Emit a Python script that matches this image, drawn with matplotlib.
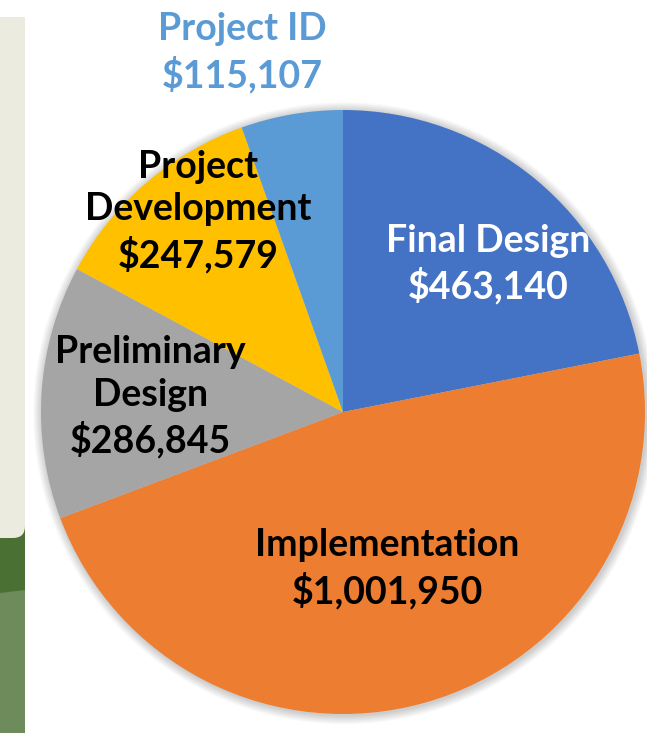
import numpy as np
import matplotlib
matplotlib.use('Agg')
import matplotlib.pyplot as plt
from matplotlib.patches import Circle, Rectangle, Polygon, FancyBboxPatch

##------------data-----------------##
phases = ['Final Design', 'Implementation', 'Preliminary\nDesign',
          'Project\nDevelopment', 'Project ID']
costs = [463140, 1001950, 286845, 247579, 115107]
colors = ['#4472C4', '#ED7D31', '#A5A5A5', '#FFC000', '#5B9BD5']
label_colors = ['white', 'black', 'black', 'black', '#5B9BD5']

##------------layout (pixels)-----------------##
W, H = 647, 733
cx, cy, R = 343, 412, 302
# label centres as (radius fraction, angle in degrees)
label_pos = [(0.685, 45.5), (0.54, -74.2), (0.64, 175.6), (0.82, 125.9), (1.235, 105.7)]

fig = plt.figure(figsize=(W/100, H/100), dpi=100)
ax = fig.add_axes([0, 0, 1, 1])

# left strip of the slide behind the chart
bg = fig.add_axes([0, 0, 1, 1], zorder=-1)
bg.set_xlim(0, W)
bg.set_ylim(H, 0)
bg.axis('off')
bg.add_patch(Rectangle((0, 560), 25, H-560, color='#6E8B5C', lw=0))
bg.add_patch(Polygon([(0, 515), (25, 515), (25, 590), (0, 593)], color='#4A7034', lw=0))
bg.add_patch(FancyBboxPatch((-20, 400), 45, 138, boxstyle='round,pad=0,rounding_size=12',
                            color='#ECEBE0', lw=0))
bg.add_patch(Rectangle((0, 17), 25, 400, color='#ECEBE0', lw=0))

# soft shadow
for k in range(10):
    ax.add_patch(Circle((0.004, -0.004), 1 + (10 - k)*0.003, color='black',
                        alpha=0.018, lw=0, zorder=0))

wedges, _ = ax.pie(costs, colors=colors, startangle=90, counterclock=False,
                   radius=1, wedgeprops=dict(linewidth=0))
for w in wedges:
    w.set_zorder(2)

for name, val, c, (rf, ang) in zip(phases, costs, label_colors, label_pos):
    x = rf*np.cos(np.radians(ang))
    y = rf*np.sin(np.radians(ang))
    ax.text(x, y, '%s\n$%s' % (name, format(val, ',')), ha='center', va='center',
            color=c, fontsize=27, fontweight='bold', family=['Lato', 'DejaVu Sans'],
            linespacing=1.3, zorder=3)

ax.set_xlim(-cx/R, (W-cx)/R)
ax.set_ylim(-(H-cy)/R, cy/R)
ax.set_aspect('auto')
ax.axis('off')

fig.savefig('out.png', dpi=100)
